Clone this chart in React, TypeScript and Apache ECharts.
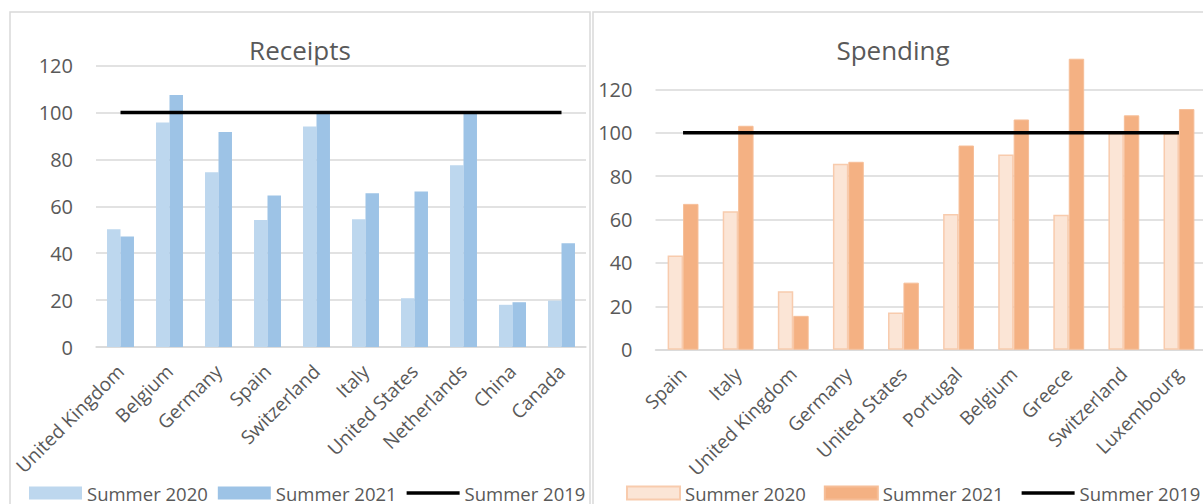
import React, { useEffect, useRef } from 'react';
import * as echarts from 'echarts';

const receiptCategories = ['United Kingdom', 'Belgium', 'Germany', 'Spain', 'Switzerland', 'Italy', 'United States', 'Netherlands', 'China', 'Canada'];
const receipts2020 = [50.2, 95.8, 74.5, 54.2, 94.1, 54.5, 20.8, 77.5, 18.0, 19.8];
const receipts2021 = [47.1, 107.5, 91.7, 64.6, 100, 65.6, 66.3, 100, 19.1, 44.3];
const receipts2019 = [100, 100, 100, 100, 100, 100, 100, 100, 100, 100];

const spendingCategories = ['Spain', 'Italy', 'United Kingdom', 'Germany', 'United States', 'Portugal', 'Belgium', 'Greece', 'Switzerland', 'Luxembourg'];
const spending2020 = [43.4, 63.8, 26.9, 85.7, 17.1, 62.5, 90.0, 62.2, 99.9, 99.6];
const spending2021 = [67.2, 103.2, 15.6, 86.6, 30.9, 94.1, 106.1, 134.1, 108.0, 110.9];
const spending2019 = [100, 100, 100, 100, 100, 100, 100, 100, 100, 100];

const seriesNames = ['Summer 2020', 'Summer 2021', 'Summer 2019'];
const titles = ['Receipts', 'Spending'];

const FONT = 'Open Sans';
const TXT = '#595959';
const GRID = '#D9D9D9';
const LINE_ICON = 'path://M0,0H53V3.5H0Z';

export default function App() {
  const ref = useRef<HTMLDivElement>(null);
  useEffect(() => {
    if (!ref.current) return;
    const chart = echarts.init(ref.current, undefined, { renderer: 'svg' });
    const xAxisBase = (cats: string[], gridIndex: number) => ({
      type: 'category',
      gridIndex,
      data: cats,
      axisLine: { show: true, lineStyle: { color: GRID, width: 1.5 } },
      axisTick: { show: false },
      axisLabel: { rotate: 45, color: TXT, fontFamily: FONT, fontSize: 19, margin: 21, interval: 0 },
    });
    const yAxisBase = (gridIndex: number, max: number) => ({
      type: 'value',
      gridIndex,
      min: 0,
      max,
      interval: 20,
      axisLine: { show: false },
      axisTick: { show: false },
      axisLabel: { color: TXT, fontFamily: FONT, fontSize: 20, margin: 23, showMaxLabel: max === 120 },
      splitLine: { show: true, showMaxLine: max === 120, lineStyle: { color: GRID, width: 1.5 } },
    });
    const legendText = { color: TXT, fontFamily: FONT, fontSize: 18.5, lineHeight: 20 };
    const prefix = 'S-';
    const option = {
      animation: false,
      graphic: [
        { type: 'rect', shape: { x: 10, y: 12, width: 580, height: 530 }, style: { fill: 'none', stroke: GRID, lineWidth: 1.5 }, z: -1 },
        { type: 'rect', shape: { x: 593, y: 12, width: 700, height: 530 }, style: { fill: 'none', stroke: GRID, lineWidth: 1.5 }, z: -1 },
        { type: 'text', x: 300, y: 50, style: { text: titles[0], fill: TXT, font: `26px "${FONT}"`, textAlign: 'center', textVerticalAlign: 'middle' } },
        { type: 'text', x: 893, y: 50, style: { text: titles[1], fill: TXT, font: `26px "${FONT}"`, textAlign: 'center', textVerticalAlign: 'middle' } },
      ],
      grid: [
        { left: 96, top: 65.7, width: 490, height: 281.3, containLabel: false, outerBoundsMode: 'none' },
        { left: 655.5, top: 54.6, width: 551, height: 295.1, containLabel: false, outerBoundsMode: 'none' },
      ],
      xAxis: [xAxisBase(receiptCategories, 0), xAxisBase(spendingCategories, 1)],
      yAxis: [yAxisBase(0, 120), yAxisBase(1, 136)],
      legend: [
        {
          data: [
            { name: seriesNames[0], icon: 'rect' },
            { name: seriesNames[1], icon: 'rect' },
            { name: seriesNames[2], icon: LINE_ICON },
          ],
          left: 29, top: 483, padding: 0, itemWidth: 53, itemHeight: 13, itemGap: 10,
          textStyle: legendText, selectedMode: false,
        },
        {
          data: [
            { name: prefix + seriesNames[0], icon: 'rect' },
            { name: prefix + seriesNames[1], icon: 'rect' },
            { name: prefix + seriesNames[2], icon: LINE_ICON },
          ],
          left: 626, top: 483, padding: 0, itemWidth: 53, itemHeight: 13, itemGap: 18,
          textStyle: legendText, selectedMode: false,
          formatter: (n: string) => n.replace(prefix, ''),
        },
      ],
      series: [
        { name: seriesNames[0], type: 'bar', xAxisIndex: 0, yAxisIndex: 0, data: receipts2020, barGap: '0%', barCategoryGap: '45%', itemStyle: { color: '#BDD7EE' }, z: 2 },
        { name: seriesNames[1], type: 'bar', xAxisIndex: 0, yAxisIndex: 0, data: receipts2021, barGap: '0%', barCategoryGap: '45%', itemStyle: { color: '#9DC3E6' }, z: 2 },
        { name: seriesNames[2], type: 'line', xAxisIndex: 0, yAxisIndex: 0, data: receipts2019, symbol: 'none', lineStyle: { color: '#000000', width: 3.5 }, itemStyle: { color: '#000000' }, z: 3 },
        { name: prefix + seriesNames[0], type: 'bar', xAxisIndex: 1, yAxisIndex: 1, data: spending2020, barGap: '0%', barCategoryGap: '44%', itemStyle: { color: '#FBE5D6', borderColor: '#F8CBAD', borderWidth: 1.5 }, z: 2 },
        { name: prefix + seriesNames[1], type: 'bar', xAxisIndex: 1, yAxisIndex: 1, data: spending2021, barGap: '0%', barCategoryGap: '44%', itemStyle: { color: '#F4B183', borderColor: '#F6BE98', borderWidth: 1 }, z: 2 },
        { name: prefix + seriesNames[2], type: 'line', xAxisIndex: 1, yAxisIndex: 1, data: spending2019, symbol: 'none', lineStyle: { color: '#000000', width: 3.5 }, itemStyle: { color: '#000000' }, z: 3 },
      ],
    };
    chart.setOption(option as any);
    return () => chart.dispose();
  }, []);
  return (
    <div style={{ position: 'fixed', left: 0, top: 0, width: 1203, height: 504, overflow: 'hidden', background: '#ffffff' }}>
      <div ref={ref} style={{ width: 1203, height: 504 }} />
    </div>
  );
}
